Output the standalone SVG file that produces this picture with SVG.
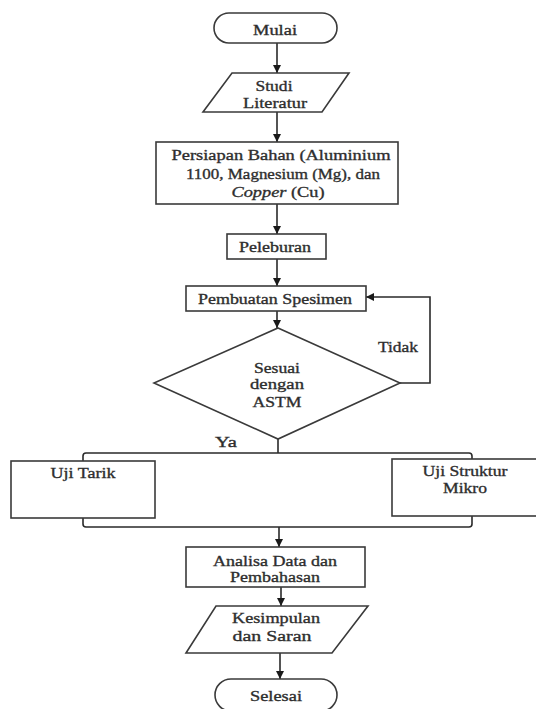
<svg xmlns="http://www.w3.org/2000/svg" width="536" height="709" viewBox="0 0 536 709">
<style>
.s{fill:#fff;stroke:#3a3a3a;stroke-width:1.6}
.c{fill:none;stroke:#2a2a2a;stroke-width:1.6}
text{font-family:"Liberation Serif","Times New Roman",serif;font-size:15.5px;font-weight:normal;fill:#2e2e2e;stroke:#2e2e2e;stroke-width:0.35;text-anchor:middle}
</style>
<defs>
<marker id="ah" markerUnits="userSpaceOnUse" markerWidth="8" markerHeight="8" viewBox="0 0 8 8" refX="8" refY="4" orient="auto">
<path d="M0,0 L8,4 L0,8 Z" fill="#1a1a1a"/>
</marker>
</defs>
<rect width="536" height="709" fill="#fff"/>
<g id="connectors">
<line class="c" x1="277" y1="43" x2="277" y2="73" marker-end="url(#ah)"/>
<line class="c" x1="277" y1="112" x2="277" y2="142" marker-end="url(#ah)"/>
<line class="c" x1="277" y1="204" x2="277" y2="234" marker-end="url(#ah)"/>
<line class="c" x1="277" y1="259" x2="277" y2="286" marker-end="url(#ah)"/>
<line class="c" x1="277" y1="311" x2="277" y2="328" marker-end="url(#ah)"/>
<polyline class="c" points="400,383 430,383 430,297 366,297" marker-end="url(#ah)"/>
<line class="c" x1="278" y1="439" x2="278" y2="453"/>
<path class="c" d="M83,461 V456 Q83,453 86,453 H469 Q472,453 472,456 V459"/>
<path class="c" d="M83,518 V524 Q83,527 86,527 H469 Q472,527 472,524 V516"/>
<line class="c" x1="279" y1="527" x2="279" y2="547" marker-end="url(#ah)"/>
<line class="c" x1="281" y1="587" x2="281" y2="606" marker-end="url(#ah)"/>
<line class="c" x1="280" y1="653" x2="280" y2="679" marker-end="url(#ah)"/>
<text x="398" y="352" textLength="40" lengthAdjust="spacingAndGlyphs">Tidak</text>
<text x="226" y="447" textLength="22" lengthAdjust="spacingAndGlyphs">Ya</text>
</g>
<g id="mulai">
<rect class="s" x="214" y="13" width="123" height="30" rx="15"/>
<text x="275" y="35" textLength="44" lengthAdjust="spacingAndGlyphs">Mulai</text>
</g>
<g id="studi">
<polygon class="s" points="232,73 349,73 322,112 203,112"/>
<text x="274" y="91" textLength="37" lengthAdjust="spacingAndGlyphs">Studi</text>
<text x="275" y="108" textLength="64" lengthAdjust="spacingAndGlyphs">Literatur</text>
</g>
<g id="persiapan">
<rect class="s" x="156" y="142" width="242" height="62"/>
<text x="281" y="160" textLength="219" lengthAdjust="spacingAndGlyphs">Persiapan Bahan (Aluminium</text>
<text x="283" y="179" textLength="194" lengthAdjust="spacingAndGlyphs">1100, Magnesium (Mg), dan</text>
<text x="278" y="197" textLength="93" lengthAdjust="spacingAndGlyphs"><tspan font-style="italic">Copper</tspan> (Cu)</text>
</g>
<g id="peleburan">
<rect class="s" x="227" y="234" width="99" height="25"/>
<text x="275" y="252" textLength="72" lengthAdjust="spacingAndGlyphs">Peleburan</text>
</g>
<g id="pembuatan">
<rect class="s" x="186" y="286" width="180" height="25"/>
<text x="275" y="304" textLength="154" lengthAdjust="spacingAndGlyphs">Pembuatan Spesimen</text>
</g>
<g id="sesuai">
<polygon class="s" points="278,328 400,383 278,439 154,383"/>
<text x="277" y="373" textLength="46" lengthAdjust="spacingAndGlyphs">Sesuai</text>
<text x="277" y="389" textLength="54" lengthAdjust="spacingAndGlyphs">dengan</text>
<text x="277" y="407" textLength="49" lengthAdjust="spacingAndGlyphs">ASTM</text>
</g>
<g id="uji-tarik">
<rect class="s" x="11" y="461" width="144" height="57"/>
<text x="83" y="478" textLength="65" lengthAdjust="spacingAndGlyphs">Uji Tarik</text>
</g>
<g id="uji-struktur">
<rect class="s" x="392" y="459" width="150" height="57"/>
<text x="465" y="476" textLength="85" lengthAdjust="spacingAndGlyphs">Uji Struktur</text>
<text x="465" y="493" textLength="44" lengthAdjust="spacingAndGlyphs">Mikro</text>
</g>
<g id="analisa">
<rect class="s" x="186" y="547" width="179" height="40"/>
<text x="275" y="566" textLength="124" lengthAdjust="spacingAndGlyphs">Analisa Data dan</text>
<text x="275" y="582" textLength="90" lengthAdjust="spacingAndGlyphs">Pembahasan</text>
</g>
<g id="kesimpulan">
<polygon class="s" points="216,606 368,606 332,653 186,653"/>
<text x="276" y="623" textLength="88" lengthAdjust="spacingAndGlyphs">Kesimpulan</text>
<text x="272" y="641" textLength="79" lengthAdjust="spacingAndGlyphs">dan Saran</text>
</g>
<g id="selesai">
<rect class="s" x="215" y="679" width="122" height="32" rx="16"/>
<text x="276" y="701" textLength="52" lengthAdjust="spacingAndGlyphs">Selesai</text>
</g>
</svg>
